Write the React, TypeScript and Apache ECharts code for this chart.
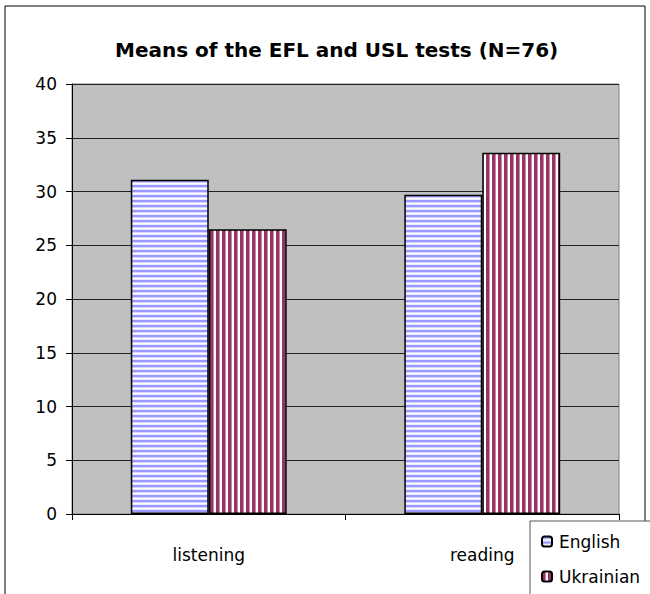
import React, { useEffect, useRef } from "react";
import * as echarts from "echarts";

const categories = ["listening", "reading"];
const englishValues = [31.1, 29.7];
const ukrainianValues = [26.5, 33.6];
const seriesNames = ["English", "Ukrainian"];
const yTicks = { min: 0, max: 40, interval: 5 };

function makeStripes(horizontal: boolean, colors: string[]): string {
  const n = colors.length;
  const c = document.createElement("canvas");
  c.width = horizontal ? 8 : n;
  c.height = horizontal ? n : 8;
  const ctx = c.getContext("2d")!;
  colors.forEach((col, i) => {
    ctx.fillStyle = col;
    if (horizontal) ctx.fillRect(0, i, 8, 1);
    else ctx.fillRect(i, 0, 1, 8);
  });
  return c.toDataURL();
}

export default function App() {
  const ref = useRef<HTMLDivElement>(null);
  useEffect(() => {
    if (!ref.current) return;
    const chart = echarts.init(ref.current, undefined, { renderer: "svg" });
    const engPattern = makeStripes(true, ["#9999ff", "#9999ff", "#d4d4ff", "#ffffff", "#e8e8ff"]);
    const ukrPattern = makeStripes(false, ["#993366", "#993366", "#993366", "#c78aa8", "#ffffff", "#ffffff"]);
    const font = "DejaVu Sans, sans-serif";
    chart.setOption({
      animation: false,
      title: {
        text: "Means of the EFL and USL tests (N=76)",
        left: 110,
        top: 35,
        textStyle: { fontFamily: font, fontSize: 20, fontWeight: "bold", color: "#000" },
      },
      grid: {
        left: 72,
        right: 31,
        top: 84,
        bottom: 80,
        show: true,
        backgroundColor: "#c0c0c0",
        borderColor: "#808080",
        borderWidth: 1,
      },
      legend: {
        orient: "vertical",
        left: 536,
        top: 528,
        itemWidth: 10,
        itemHeight: 10,
        itemGap: 18,
        z: 12,
        textStyle: { fontFamily: font, fontSize: 17, color: "#000", padding: [0, 0, 0, 2] },
        data: seriesNames,
      },
      xAxis: {
        type: "category",
        data: categories,
        axisLine: { lineStyle: { color: "#000", width: 1 } },
        axisTick: { show: true, length: 6, lineStyle: { color: "#000" } },
        axisLabel: { fontFamily: font, fontSize: 17, color: "#000", margin: 32 },
      },
      yAxis: {
        type: "value",
        min: yTicks.min,
        max: yTicks.max,
        interval: yTicks.interval,
        axisLine: { show: true, lineStyle: { color: "#000", width: 1 } },
        axisTick: { show: true, length: 6, lineStyle: { color: "#000" } },
        axisLabel: { fontFamily: font, fontSize: 17, color: "#000", margin: 15 },
        splitLine: { show: true, lineStyle: { color: "#222", width: 1 } },
      },
      series: [
        {
          name: seriesNames[0],
          type: "bar",
          data: englishValues,
          barWidth: "28.5%",
          barGap: "0%",
          itemStyle: {
            color: { image: engPattern, repeat: "repeat" },
            borderColor: "#000",
            borderWidth: 1.5,
          },
        },
        {
          name: seriesNames[1],
          type: "bar",
          data: ukrainianValues,
          barWidth: "28.5%",
          barGap: "0%",
          itemStyle: {
            color: { image: ukrPattern, repeat: "repeat" },
            borderColor: "#000",
            borderWidth: 1.5,
          },
        },
      ],
      graphic: [
        {
          type: "rect",
          shape: { x: 5, y: 6, width: 640, height: 620 },
          style: { fill: "none", stroke: "#000", lineWidth: 1 },
          z: -1,
          silent: true,
        },
        {
          type: "rect",
          shape: { x: 530, y: 521, width: 140, height: 100 },
          style: { fill: "#fff", stroke: "#555", lineWidth: 1 },
          z: 10,
          silent: true,
        },
      ],
    });
    return () => chart.dispose();
  }, []);
  return <div ref={ref} style={{ width: 650, height: 594, position: "absolute", left: 0, top: 0 }} />;
}
